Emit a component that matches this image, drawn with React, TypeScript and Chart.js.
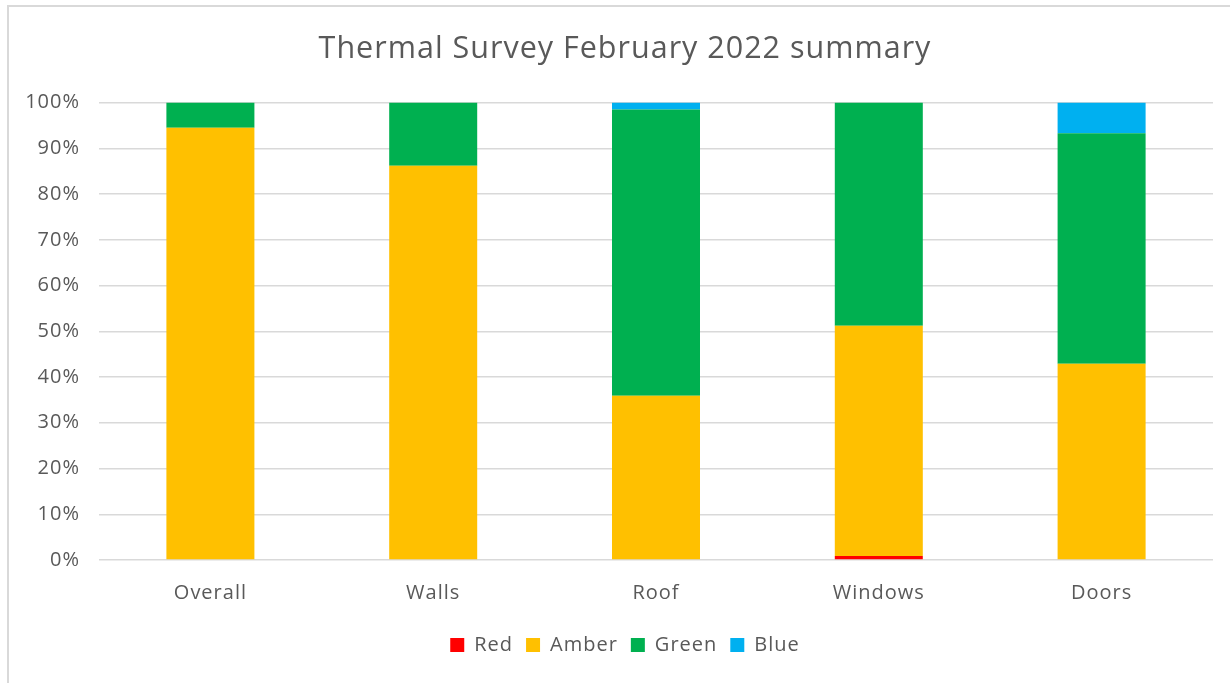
import React, { useEffect, useRef } from "react";
import { Chart, registerables } from "chart.js";

Chart.register(...registerables);

const categories = ["Overall", "Walls", "Roof", "Windows", "Doors"];
const redValues = [0, 0, 0, 0.9, 0];
const amberValues = [94.5, 86.2, 35.9, 50.3, 42.9];
const greenValues = [5.5, 13.8, 62.6, 48.8, 50.4];
const blueValues = [0, 0, 1.5, 0, 6.7];
const yTicks = [0, 10, 20, 30, 40, 50, 60, 70, 80, 90, 100];

const FONT = "'Open Sans', Lato, sans-serif";
const TEXT = "#595959";

const spacingPlugin = {
  id: "letterSpacing",
  beforeLayout(chart: any) {
    chart.ctx.letterSpacing = "1px";
  },
  beforeDraw(chart: any) {
    chart.ctx.letterSpacing = "1px";
  },
};

export default function App() {
  const ref = useRef<HTMLCanvasElement | null>(null);

  useEffect(() => {
    if (!ref.current) return;
    const chart = new Chart(ref.current, {
      type: "bar",
      data: {
        labels: categories,
        datasets: [
          { label: "Red", data: redValues, backgroundColor: "#FF0000" },
          { label: "Amber", data: amberValues, backgroundColor: "#FFC000" },
          { label: "Green", data: greenValues, backgroundColor: "#00B050" },
          { label: "Blue", data: blueValues, backgroundColor: "#00B0F0" },
        ],
      },
      plugins: [spacingPlugin],
      options: {
        animation: false,
        responsive: false,
        maintainAspectRatio: false,
        datasets: {
          bar: { categoryPercentage: 1, barPercentage: 0.395, borderWidth: 0 },
        },
        layout: { padding: { left: 0, right: 0, top: 0, bottom: 18 } },
        scales: {
          x: {
            stacked: true,
            grid: { display: false, drawTicks: false },
            border: { display: false },
            ticks: { color: TEXT, font: { family: FONT, size: 20 }, padding: 21 },
            afterFit: (s: any) => {
              s.height = 62;
            },
          },
          y: {
            stacked: true,
            min: 0,
            max: 100,
            afterBuildTicks: (s: any) => {
              s.ticks = yTicks.map((v) => ({ value: v }));
            },
            grid: { color: "#d9d9d9", lineWidth: 1.5, drawTicks: false },
            border: { display: false },
            ticks: {
              color: TEXT,
              font: { family: FONT, size: 20 },
              padding: 19,
              callback: (v: any) => v + "%",
            },
            afterFit: (s: any) => {
              s.width = 90;
            },
          },
          yRight: {
            position: "right",
            display: true,
            grid: { display: false, drawTicks: false },
            border: { display: false },
            ticks: { display: false },
            afterFit: (s: any) => {
              s.width = 28;
            },
          },
        },
        plugins: {
          title: {
            display: true,
            text: "Thermal Survey February 2022 summary",
            color: TEXT,
            font: { family: FONT, size: 30.5, weight: "normal" },
            padding: { top: 24, bottom: 35 },
          },
          legend: {
            position: "bottom",
            labels: {
              color: TEXT,
              font: { family: FONT, size: 20 },
              boxWidth: 14,
              boxHeight: 14,
              padding: 13,
            },
          },
          tooltip: { enabled: false },
        },
      },
    });
    return () => chart.destroy();
  }, []);

  return (
    <div style={{ position: "absolute", left: 0, top: 0, width: 1230, height: 683, overflow: "hidden", background: "#fff" }}>
      <div
        style={{
          position: "absolute",
          left: 7,
          top: 5,
          width: 1240,
          height: 700,
          border: "2px solid #d9d9d9",
          boxSizing: "border-box",
        }}
      />
      <canvas
        ref={ref}
        width={1232}
        height={676}
        style={{ position: "absolute", left: 9, top: 7, width: 1232, height: 676 }}
      />
    </div>
  );
}
